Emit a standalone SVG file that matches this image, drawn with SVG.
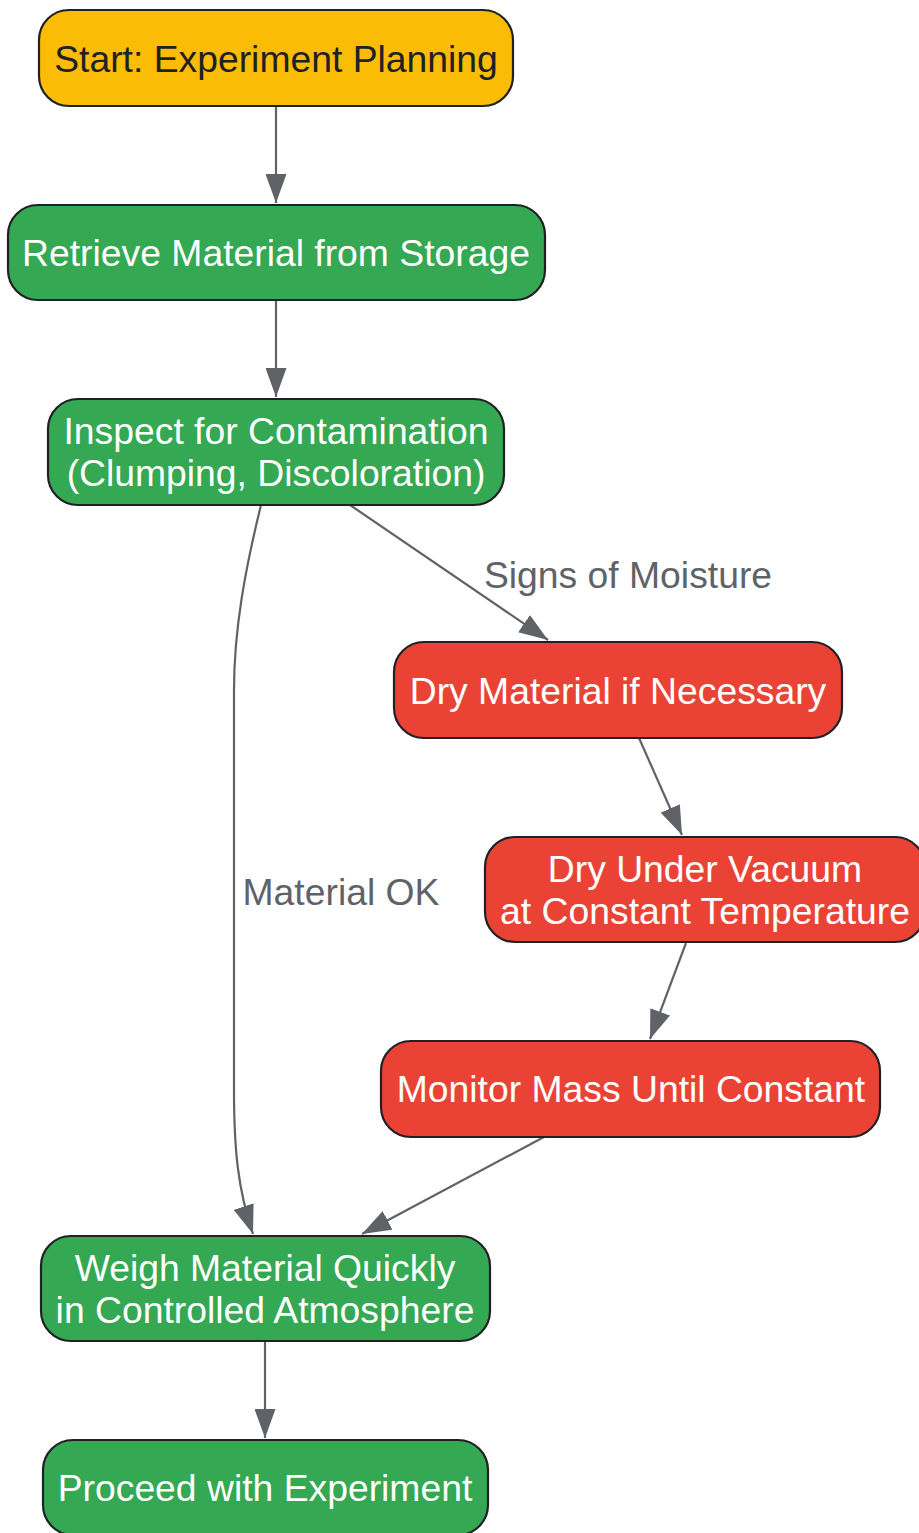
<svg xmlns="http://www.w3.org/2000/svg" width="919" height="1533" viewBox="0 0 919 1533">
<style>
.node rect{stroke:#202124;stroke-width:2.2}
.y rect{fill:#FBBC05}
.g rect{fill:#34A853}
.r rect{fill:#EA4335}
.node text{font-family:"Liberation Sans",Arial,sans-serif;font-size:37.3px;text-anchor:middle;fill:#ffffff}
.y text{fill:#202124}
.edges path{fill:none;stroke:#5F6368;stroke-width:2.2;marker-end:url(#arr)}
.lbl{font-family:"Liberation Sans",Arial,sans-serif;font-size:37.3px;text-anchor:middle;fill:#5F6368}
</style>
<defs>
<marker id="arr" viewBox="0 0 10 10" preserveAspectRatio="none" refX="10" refY="5" markerUnits="userSpaceOnUse" markerWidth="29" markerHeight="21" orient="auto">
<path d="M0,0 L10,5 L0,10 z" fill="#5F6368"/>
</marker>
</defs>
<rect width="919" height="1533" fill="#ffffff"/>
<g class="edges" id="connectors">
<path d="M276,106 L276,203"/>
<path d="M276,300 L276,397"/>
<path d="M350,505 L548,640"/>
<path d="M639,738 L682,835"/>
<path d="M686,943 L650,1039"/>
<path d="M544,1137 L362,1234"/>
<path d="M261,505 C245,570 234,630 234,690 L234,1090 C234,1150 238,1190 253,1234"/>
<path d="M265,1341 L265,1438"/>
<text class="lbl" x="628" y="588">Signs of Moisture</text>
<text class="lbl" x="341" y="905">Material OK</text>
</g>
<g class="node y" id="start">
<rect x="39" y="10" width="474" height="96" rx="30"/>
<text x="276" y="72">Start: Experiment Planning</text>
</g>
<g class="node g" id="retrieve">
<rect x="8" y="205" width="537" height="95" rx="30"/>
<text x="276" y="266">Retrieve Material from Storage</text>
</g>
<g class="node g" id="inspect">
<rect x="48" y="399" width="456" height="106" rx="30"/>
<text x="276" y="444">Inspect for Contamination</text>
<text x="276" y="486">(Clumping, Discoloration)</text>
</g>
<g class="node r" id="dry">
<rect x="394" y="642" width="448" height="96" rx="30"/>
<text x="618" y="704">Dry Material if Necessary</text>
</g>
<g class="node r" id="vacuum">
<rect x="485" y="837" width="440" height="105" rx="30"/>
<text x="705" y="882">Dry Under Vacuum</text>
<text x="705" y="924">at Constant Temperature</text>
</g>
<g class="node r" id="monitor">
<rect x="381" y="1041" width="499" height="96" rx="30"/>
<text x="631" y="1102">Monitor Mass Until Constant</text>
</g>
<g class="node g" id="weigh">
<rect x="41" y="1236" width="449" height="105" rx="30"/>
<text x="265" y="1281">Weigh Material Quickly</text>
<text x="265" y="1323">in Controlled Atmosphere</text>
</g>
<g class="node g" id="proceed">
<rect x="43" y="1440" width="445" height="95" rx="30"/>
<text x="265" y="1501">Proceed with Experiment</text>
</g>
</svg>
